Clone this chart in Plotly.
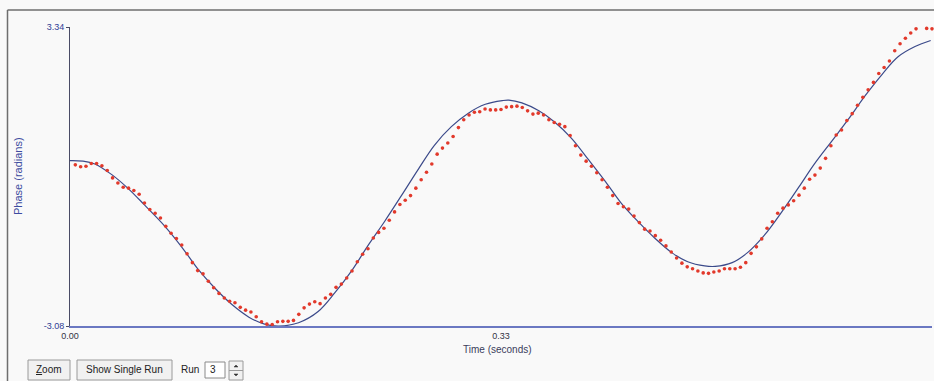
import plotly.graph_objects as go

# ---- data ----
RUN_DT = 0.66 / 162  # sampling interval of the measured run (s)
measured_phase = [
    0.38, 0.34, 0.35, 0.41, 0.41, 0.36, 0.26, 0.10, -0.01, -0.10,
    -0.12, -0.17, -0.25, -0.44, -0.58, -0.66, -0.76, -0.94, -1.09, -1.20,
    -1.34, -1.53, -1.72, -1.89, -1.96, -2.12, -2.26, -2.38, -2.48, -2.55,
    -2.58, -2.68, -2.74, -2.78, -2.88, -2.99, -3.04, -3.05, -2.99, -2.98,
    -2.98, -2.96, -2.83, -2.69, -2.61, -2.56, -2.60, -2.48, -2.40, -2.25,
    -2.18, -2.05, -1.90, -1.70, -1.54, -1.42, -1.19, -1.07, -0.98, -0.81,
    -0.63, -0.47, -0.38, -0.28, -0.12, 0.06, 0.22, 0.40, 0.61, 0.74,
    0.85, 0.99, 1.18, 1.35, 1.45, 1.51, 1.52, 1.58, 1.56, 1.56,
    1.57, 1.62, 1.63, 1.64, 1.61, 1.54, 1.47, 1.49, 1.45, 1.35,
    1.29, 1.25, 1.20, 1.01, 0.79, 0.59, 0.46, 0.35, 0.21, 0.06,
    -0.10, -0.28, -0.45, -0.52, -0.57, -0.72, -0.86, -1.00, -1.04, -1.14,
    -1.24, -1.36, -1.49, -1.62, -1.73, -1.81, -1.85, -1.90, -1.94, -1.95,
    -1.92, -1.90, -1.85, -1.85, -1.85, -1.82, -1.72, -1.52, -1.38, -1.21,
    -0.98, -0.84, -0.66, -0.55, -0.48, -0.39, -0.27, -0.12, 0.07, 0.16,
    0.31, 0.52, 0.79, 1.02, 1.13, 1.33, 1.48, 1.66, 1.83, 1.99,
    2.15, 2.34, 2.47, 2.61, 2.83, 2.98, 3.10, 3.21, 3.30, 3.35,
    3.31, 3.30,
]
measured_time = [RUN_DT * (i + 1) for i in range(len(measured_phase))]

model_time = [0.000, 0.010, 0.019, 0.032, 0.045, 0.057, 0.073, 0.086, 0.098, 0.111, 0.124,
              0.137, 0.149, 0.160, 0.175, 0.190, 0.203, 0.216, 0.228, 0.241, 0.254,
              0.267, 0.279, 0.292, 0.305, 0.318, 0.331, 0.336, 0.346, 0.359, 0.371,
              0.384, 0.397, 0.410, 0.422, 0.435, 0.448, 0.461, 0.473, 0.486, 0.494,
              0.507, 0.519, 0.532, 0.545, 0.558, 0.570, 0.583, 0.596, 0.609, 0.622,
              0.634, 0.647, 0.659]
model_phase = [0.47, 0.46, 0.40, 0.17, -0.14, -0.48, -0.95, -1.40, -1.86, -2.27, -2.62,
               -2.89, -3.04, -3.08, -3.01, -2.77, -2.36, -1.88, -1.36, -0.83, -0.27,
               0.30, 0.80, 1.20, 1.49, 1.68, 1.76, 1.77, 1.71, 1.54, 1.30,
               0.95, 0.49, 0.02, -0.44, -0.84, -1.20, -1.51, -1.70, -1.79, -1.80,
               -1.72, -1.50, -1.12, -0.63, -0.10, 0.40, 0.88, 1.36, 1.87, 2.33,
               2.70, 2.92, 3.05]

x_ticks = [0.0, 0.33, 0.66]
x_tick_text = ["0.00", "0.33", "0.66"]
y_ticks = [-3.08, 3.34]
y_tick_text = ["-3.08", "3.34"]

# ---- layout geometry (pixels) ----
W, H = 934, 381
L, R, T, B = 70, 2, 27, 55
PW, PH = W - L - R, H - T - B
BG = "#f9f9f9"
FONT = "Liberation Sans, Arial, sans-serif"


def px(x):
    return (x - L) / PW


def py(y):
    return (H - B - y) / PH


fig = go.Figure()
fig.add_trace(go.Scatter(
    x=model_time, y=model_phase, mode="lines",
    line=dict(color="#3b4a8a", width=1.2, shape="spline", smoothing=1.0),
    showlegend=False, hoverinfo="skip"))
fig.add_trace(go.Scatter(
    x=measured_time, y=measured_phase, mode="markers",
    marker=dict(color="#e2392b", size=3.6, line=dict(width=0)),
    cliponaxis=False, showlegend=False, hoverinfo="skip"))

shapes = [
    # window frame (left and top)
    dict(type="line", xref="paper", yref="paper", x0=px(7.5), x1=px(7.5), y0=py(10), y1=py(381),
         line=dict(color="#6e6e6e", width=1.5)),
    dict(type="line", xref="paper", yref="paper", x0=px(7.5), x1=px(934), y0=py(10), y1=py(10),
         line=dict(color="#6e6e6e", width=1.5)),
]


def button(x0, x1, y0, y1):
    shapes.append(dict(type="rect", xref="paper", yref="paper", x0=px(x0), x1=px(x1),
                       y0=py(y1), y1=py(y0), fillcolor="#f1f1f1",
                       line=dict(color="#9a9a9a", width=1)))


button(28, 70, 360, 380)
button(77, 172, 360, 380)
# text box and spinner
shapes.append(dict(type="rect", xref="paper", yref="paper", x0=px(205), x1=px(225),
                   y0=py(378), y1=py(362), fillcolor="#ffffff",
                   line=dict(color="#8a8a8a", width=1)))
button(229, 243, 361, 380)
shapes.append(dict(type="line", xref="paper", yref="paper", x0=px(229), x1=px(243),
                   y0=py(370.5), y1=py(370.5), line=dict(color="#9a9a9a", width=1)))
shapes.append(dict(type="path", xref="paper", yref="paper",
                   path="M %f %f L %f %f L %f %f Z" % (px(234), py(367), px(238), py(367), px(236), py(365)),
                   fillcolor="#333333", line=dict(color="#333333", width=0.5)))
shapes.append(dict(type="path", xref="paper", yref="paper",
                   path="M %f %f L %f %f L %f %f Z" % (px(234), py(374), px(238), py(374), px(236), py(376)),
                   fillcolor="#333333", line=dict(color="#333333", width=0.5)))

annotations = [
    dict(text="Phase (radians)", xref="paper", yref="paper", x=px(18), y=py(176),
         textangle=-90, showarrow=False, font=dict(family=FONT, size=11, color="#3d4ca0"),
         xanchor="center", yanchor="middle"),
    dict(text="Time (seconds)", xref="paper", yref="paper", x=px(497), y=py(349),
         showarrow=False, font=dict(family=FONT, size=10, color="#3a3d5c"),
         xanchor="center", yanchor="middle"),
    dict(text="<span style='text-decoration:underline'>Z</span>oom", xref="paper", yref="paper",
         x=px(49), y=py(370), showarrow=False, font=dict(family=FONT, size=10, color="#222222"),
         xanchor="center", yanchor="middle"),
    dict(text="Show Single Run", xref="paper", yref="paper",
         x=px(124.5), y=py(370), showarrow=False, font=dict(family=FONT, size=10, color="#222222"),
         xanchor="center", yanchor="middle"),
    dict(text="Run", xref="paper", yref="paper",
         x=px(190), y=py(370), showarrow=False, font=dict(family=FONT, size=10, color="#222222"),
         xanchor="center", yanchor="middle"),
    dict(text="3", xref="paper", yref="paper",
         x=px(208), y=py(370), showarrow=False, font=dict(family=FONT, size=10, color="#222222"),
         xanchor="left", yanchor="middle"),
]

fig.update_layout(
    width=W, height=H,
    margin=dict(l=L, r=R, t=T, b=B, pad=0),
    paper_bgcolor=BG, plot_bgcolor=BG,
    font=dict(family=FONT),
    shapes=shapes, annotations=annotations,
    xaxis=dict(range=[0, 0.66], tickvals=x_ticks, ticktext=x_tick_text,
               showgrid=False, zeroline=False, showline=True,
               linecolor="#6b78c2", linewidth=2, ticks="",
               tickfont=dict(family=FONT, size=9, color="#333344"), fixedrange=True),
    yaxis=dict(range=[-3.08, 3.34], tickvals=y_ticks, ticktext=y_tick_text,
               showgrid=False, zeroline=False, showline=True,
               linecolor="#4a4c66", linewidth=1, ticks="outside", ticklen=3,
               tickcolor="#4a4c66",
               tickfont=dict(family=FONT, size=9, color="#2f3d96"), fixedrange=True),
)

fig.write_html("out.html")
